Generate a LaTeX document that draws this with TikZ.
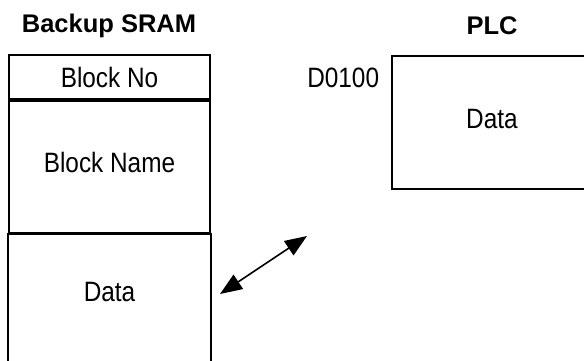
\documentclass[tikz,border=0pt]{standalone}
\usepackage{fontspec}
\setmainfont{Liberation Sans}[FakeStretch=0.87]
\newfontfamily\headfont{Liberation Sans}
\usetikzlibrary{arrows.meta, positioning, calc}
\tikzset{
  every picture/.style={line width=1.8pt},
  cell/.style={draw=black, minimum width=201pt, inner sep=0pt, font=\fontsize{28}{32}\selectfont},
  opencell/.style={cell, draw=none},
  title/.style={font=\headfont\bfseries\fontsize{25.5}{28}\selectfont, inner sep=0pt},
  addr/.style={font=\fontsize{28}{32}\selectfont, inner sep=0pt},
  arrow/.style={{Triangle[length=22pt, width=17pt]}-{Triangle[length=22pt, width=17pt]}, line width=1.6pt},
}
\begin{document}
\begin{tikzpicture}[x=1pt, y=-1pt]
  \useasboundingbox (0,0) rectangle (584,360);
  \clip (0,0) rectangle (584,360);
  % backup SRAM side
  \node[cell, minimum height=44pt] (blockno) at (109.5,77) {Block No};
  \node[cell, minimum height=132pt, text depth=9pt, below=0pt of blockno] (blockname) {Block Name};
  \node[opencell, minimum height=124pt, text depth=9pt, below=0pt of blockname] (sramdata) {Data};
  \draw ($(sramdata.south west)+(0,10)$) -- (sramdata.north west) -- (sramdata.north east) -- ($(sramdata.south east)+(0,10)$);
  \node[title] (sramtitle) at (109,26) {Backup SRAM};
  % PLC side
  \node[cell, minimum width=200pt, minimum height=133pt, text depth=8pt, anchor=north west] (plcdata) at (391,55) {Data};
  \node[title] (plctitle) at (492,26) {PLC};
  \node[addr, anchor=east] (d0100) at ($(plcdata.north west)+(-11,23)$) {D0100};
  % transfer
  \coordinate (arrowa) at (220,294);
  \coordinate (arrowb) at (307,236);
  \draw[arrow] (arrowa) -- (arrowb);
\end{tikzpicture}
\end{document}
